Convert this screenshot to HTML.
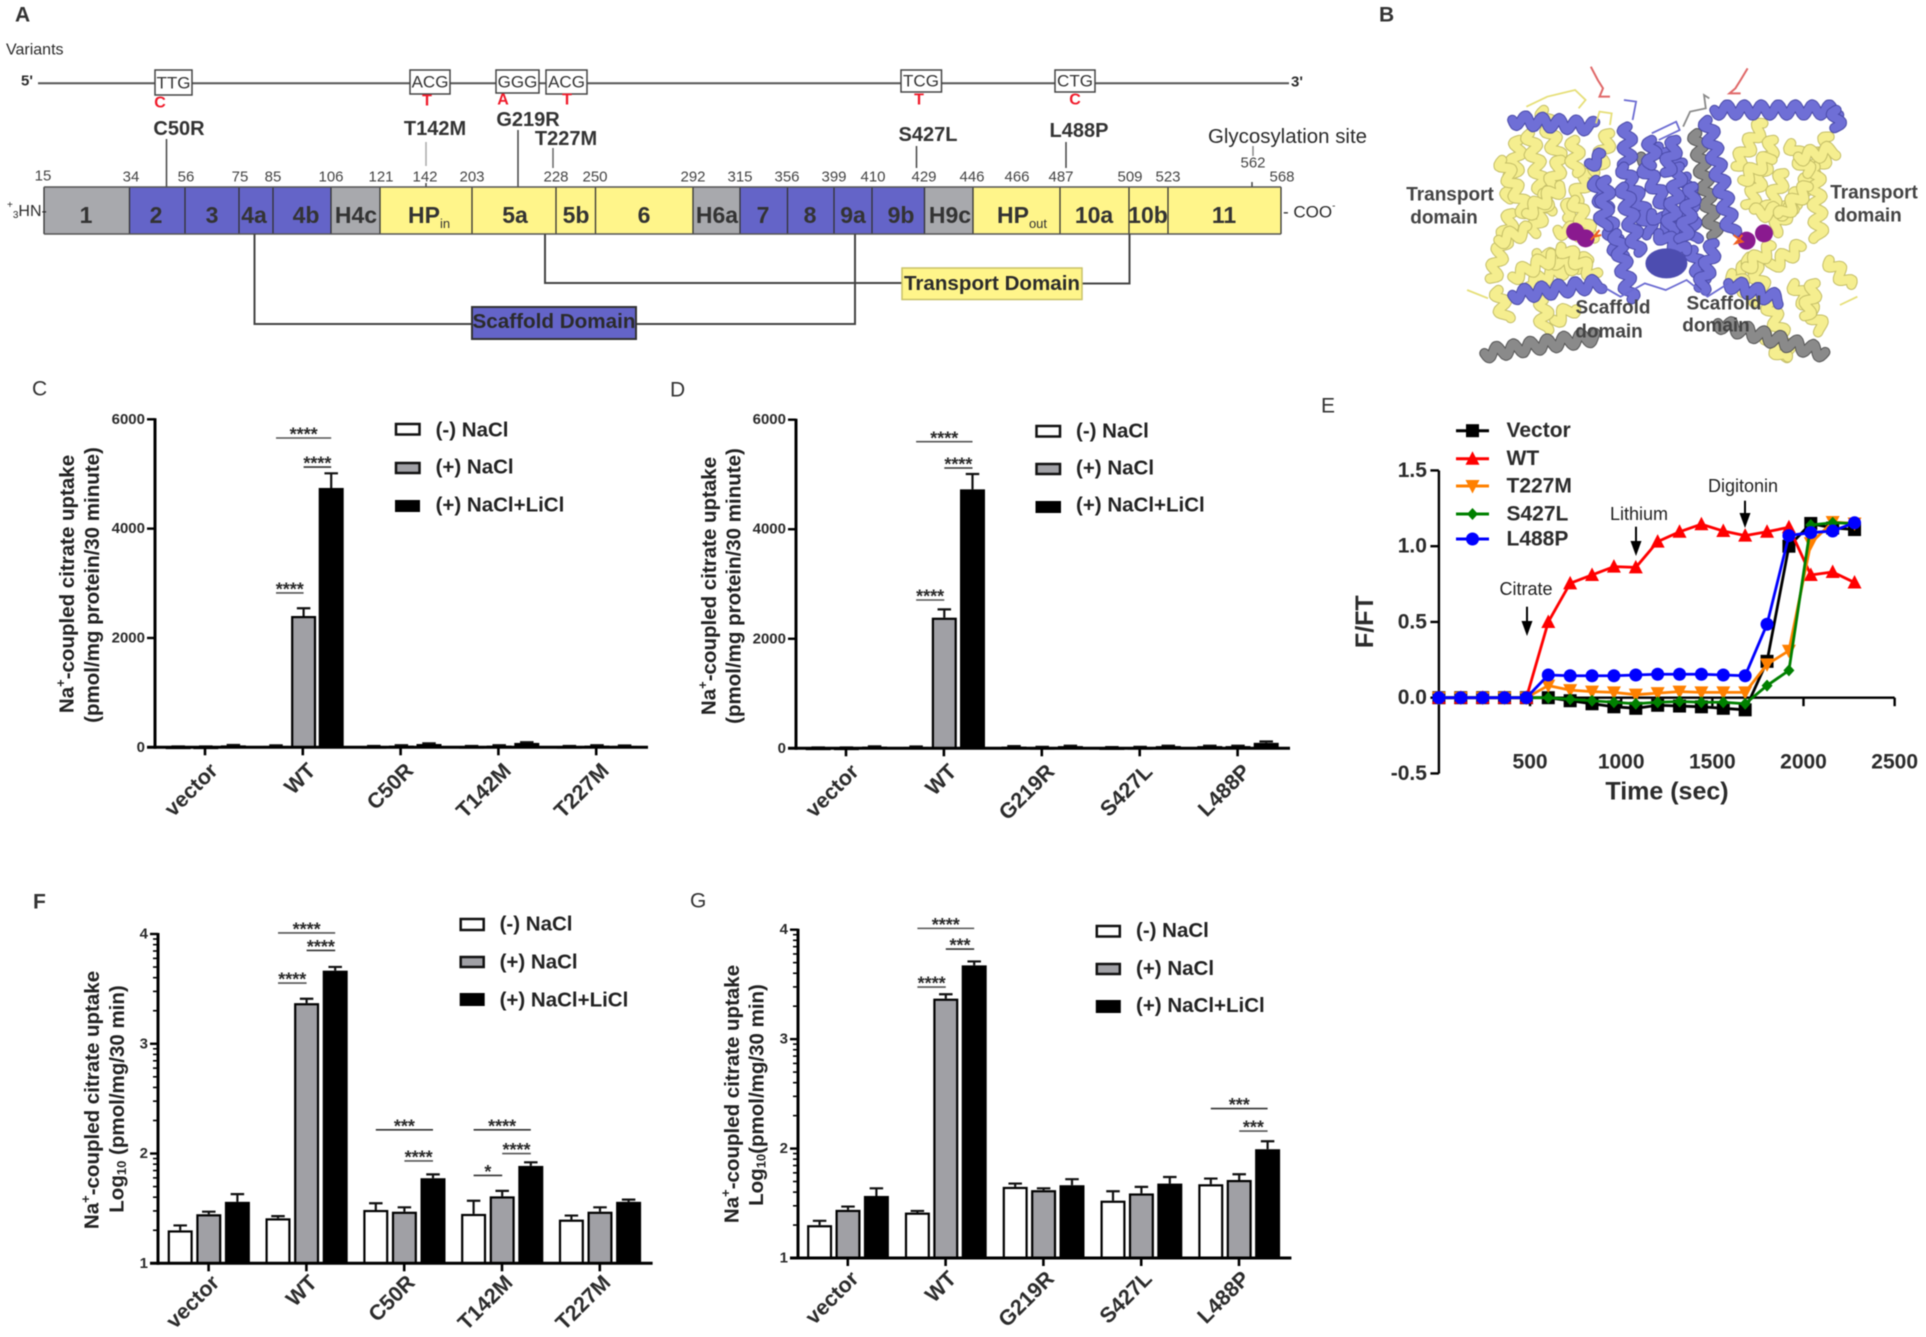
<!DOCTYPE html>
<html lang="en">
<head>
<meta charset="utf-8">
<title>Citrate transporter variants figure</title>
<style>
html,body{margin:0;padding:0;background:#fff;width:1926px;height:1337px;overflow:hidden}
svg{display:block;filter:blur(.45px)}
text{font-family:"Liberation Sans",sans-serif;dominant-baseline:central;fill:#2b2b2b}
.b{font-weight:700}
.seg{font-weight:700;font-size:23px;text-anchor:middle;fill:#333}
.num{font-size:15px;text-anchor:middle;fill:#444}
.mut{font-weight:700;font-size:20px;text-anchor:middle;fill:#333}
.red{font-weight:700;font-size:16px;text-anchor:middle;fill:#f01a2a}
.codon{font-size:17px;text-anchor:middle;fill:#333}
.ttl{font-weight:700;font-size:20.5px;text-anchor:middle;fill:#222}
.leg{font-weight:700;font-size:20.5px;fill:#222}
.letter{font-size:21px;fill:#333}
.dom{font-weight:700;font-size:19px;text-anchor:middle;fill:#444}
.ann{font-size:18px;text-anchor:middle;fill:#222}
.box{fill:#fff;stroke:#444;stroke-width:1.5}
.ln{stroke:#444;stroke-width:1.5;fill:none}
.conn{stroke:#444;stroke-width:2;fill:none}
</style>
</head>
<body>
<svg id="fig" xmlns="http://www.w3.org/2000/svg" width="1926" height="1337" viewBox="0 0 1926 1337">
<rect width="1926" height="1337" fill="#fff"/>

<!-- PANEL A -->
<g id="panel-a">
<text class="letter b" x="15" y="15">A</text>
<text x="6" y="50" font-size="16">Variants</text>
<text class="b" x="21" y="81" font-size="15">5'</text>
<line x1="38" y1="83.3" x2="1289" y2="83.3" stroke="#555" stroke-width="2"/>
<text class="b" x="1291" y="82" font-size="15">3'</text>

<rect class="box" x="155" y="70" width="37" height="25"/>
<text class="codon" x="173.500" y="83">TTG</text>
<rect class="box" x="410" y="70" width="40" height="24"/>
<text class="codon" x="430" y="82">ACG</text>
<rect class="box" x="496" y="70" width="43" height="23" stroke="#999"/>
<text class="codon" x="517.500" y="82">GGG</text>
<rect class="box" x="546" y="70" width="41" height="24"/>
<text class="codon" x="566.500" y="82">ACG</text>
<rect class="box" x="901" y="70" width="40.500" height="22"/>
<text class="codon" x="921" y="81">TCG</text>
<rect class="box" x="1055" y="70" width="40" height="22"/>
<text class="codon" x="1075" y="81">CTG</text>

<text class="red" x="160" y="103">C</text>
<text class="red" x="427" y="101">T</text>
<text class="red" x="503" y="100">A</text>
<text class="red" x="567" y="100">T</text>
<text class="red" x="919" y="100">T</text>
<text class="red" x="1075" y="100">C</text>

<text class="mut" x="179" y="129">C50R</text>
<text class="mut" x="435" y="129">T142M</text>
<text class="mut" x="528" y="120">G219R</text>
<text class="mut" x="566" y="139">T227M</text>
<text class="mut" x="928" y="135">S427L</text>
<text class="mut" x="1079" y="131">L488P</text>
<text x="1287.500" y="137" font-size="20" text-anchor="middle" textLength="159" lengthAdjust="spacingAndGlyphs" fill="#444">Glycosylation site</text>

<g>
<line class="ln" x1="166.500" y1="139" x2="166.500" y2="187"/>
<line x1="426" y1="142" x2="426" y2="166" stroke="#aaa" stroke-width="1.5"/>
<line class="ln" x1="426" y1="183" x2="426" y2="187"/>
<line class="ln" x1="518" y1="130" x2="518" y2="187"/>
<line x1="553" y1="148" x2="553" y2="168" stroke="#666" stroke-width="1.5"/>
<line class="ln" x1="916.500" y1="146" x2="916.500" y2="168"/>
<line class="ln" x1="1066" y1="142" x2="1066" y2="168"/>
<line x1="1253" y1="146" x2="1253" y2="156" stroke="#888" stroke-width="1.5"/>
<line class="ln" x1="1252" y1="182" x2="1252" y2="187"/>
</g>

<g>
<rect x="44" y="187" width="85.500" height="47" fill="#a8a9ad"/>
<rect x="129.500" y="187" width="55.500" height="47" fill="#6464c8"/>
<rect x="185" y="187" width="54" height="47" fill="#6464c8"/>
<rect x="239" y="187" width="34" height="47" fill="#6464c8"/>
<rect x="273" y="187" width="58" height="47" fill="#6464c8"/>
<rect x="331" y="187" width="49" height="47" fill="#a8a9ad"/>
<rect x="380" y="187" width="92" height="47" fill="#fff58a"/>
<rect x="472" y="187" width="84" height="47" fill="#fff58a"/>
<rect x="556" y="187" width="39.500" height="47" fill="#fff58a"/>
<rect x="595.500" y="187" width="97.500" height="47" fill="#fff58a"/>
<rect x="693" y="187" width="47" height="47" fill="#a8a9ad"/>
<rect x="740" y="187" width="47.500" height="47" fill="#6464c8"/>
<rect x="787.500" y="187" width="46.500" height="47" fill="#6464c8"/>
<rect x="834" y="187" width="38" height="47" fill="#6464c8"/>
<rect x="872" y="187" width="52.500" height="47" fill="#6464c8"/>
<rect x="924.500" y="187" width="48.500" height="47" fill="#a8a9ad"/>
<rect x="973" y="187" width="87" height="47" fill="#fff58a"/>
<rect x="1060" y="187" width="69" height="47" fill="#fff58a"/>
<rect x="1129" y="187" width="39" height="47" fill="#fff58a"/>
<rect x="1168" y="187" width="113" height="47" fill="#fff58a"/>
</g>
<path d="M129.500 187V234M185 187V234M239 187V234M273 187V234M331 187V234M380 187V234M472 187V234M556 187V234M595.500 187V234M693 187V234M740 187V234M787.500 187V234M834 187V234M872 187V234M924.500 187V234M973 187V234M1060 187V234M1129 187V234M1168 187V234M1281 187V234M44 187V234" stroke="#333" stroke-width="1.3" fill="none"/>
<path d="M44 187H1281M44 234H1281" stroke="#555" stroke-width="1.5" fill="none"/>

<text class="seg" x="86" y="215" font-size="27">1</text>
<text class="seg" x="156" y="215">2</text>
<text class="seg" x="212" y="215">3</text>
<text class="seg" x="254" y="215">4a</text>
<text class="seg" x="306" y="215">4b</text>
<text class="seg" x="356" y="215">H4c</text>
<text class="seg" x="408" y="215" style="text-anchor:start">HP<tspan font-size="13" dy="8" font-weight="400">in</tspan></text>
<text class="seg" x="515" y="215">5a</text>
<text class="seg" x="576" y="215">5b</text>
<text class="seg" x="644" y="215">6</text>
<text class="seg" x="717" y="215">H6a</text>
<text class="seg" x="763" y="215">7</text>
<text class="seg" x="810" y="215">8</text>
<text class="seg" x="853" y="215">9a</text>
<text class="seg" x="901" y="215">9b</text>
<text class="seg" x="950" y="215">H9c</text>
<text class="seg" x="997" y="215" style="text-anchor:start">HP<tspan font-size="13" dy="8" font-weight="400">out</tspan></text>
<text class="seg" x="1094" y="215">10a</text>
<text class="seg" x="1148" y="215">10b</text>
<text class="seg" x="1224" y="215">11</text>

<g>
<text class="num" x="43" y="176">15</text><text class="num" x="131" y="177">34</text><text class="num" x="186" y="177">56</text><text class="num" x="240" y="177">75</text><text class="num" x="273" y="177">85</text><text class="num" x="331" y="177">106</text><text class="num" x="381" y="177">121</text><text class="num" x="425" y="177">142</text><text class="num" x="472" y="177">203</text><text class="num" x="556" y="177">228</text><text class="num" x="595" y="177">250</text><text class="num" x="693" y="177">292</text><text class="num" x="740" y="177">315</text><text class="num" x="787" y="177">356</text><text class="num" x="834" y="177">399</text><text class="num" x="873" y="177">410</text><text class="num" x="924" y="177">429</text><text class="num" x="972" y="177">446</text><text class="num" x="1017" y="177">466</text><text class="num" x="1061" y="177">487</text><text class="num" x="1130" y="177">509</text><text class="num" x="1168" y="177">523</text><text class="num" x="1253" y="163">562</text><text class="num" x="1282" y="177">568</text>
</g>
<text x="7" y="211" font-size="16" fill="#333"><tspan font-size="10" dy="-6">+</tspan><tspan font-size="10" dy="10">3</tspan><tspan dy="-4">HN-</tspan></text>
<text x="1283" y="212" font-size="17" fill="#333">- COO<tspan font-size="10" dy="-6">-</tspan></text>

<polyline class="conn" points="254.500,234 254.500,324 855,324 855,234"/>
<rect x="472" y="307" width="164" height="32" fill="#6464c8" stroke="#333" stroke-width="2"/>
<text x="554" y="322" font-size="20" class="b" text-anchor="middle" textLength="163" lengthAdjust="spacingAndGlyphs" fill="#2a2a50">Scaffold Domain</text>
<polyline class="conn" points="545,234 545,283 902,283"/>
<polyline class="conn" points="1082,283.500 1129.500,283.500 1129.500,234"/>
<rect x="902" y="268" width="180" height="31.500" fill="#fff58a" stroke="#c9c268" stroke-width="1.5"/>
<text x="992" y="284" font-size="20" class="b" text-anchor="middle" textLength="176" lengthAdjust="spacingAndGlyphs">Transport Domain</text>
</g>

<!-- PANEL B -->
<text class="letter b" x="1379" y="15">B</text>
<g id="panel-b"></g>
<g>
<text class="dom" x="1450" y="195">Transport</text>
<text class="dom" x="1444" y="218">domain</text>
<text class="dom" x="1874" y="193">Transport</text>
<text class="dom" x="1868" y="216">domain</text>
<text class="dom" x="1613" y="308">Scaffold</text>
<text class="dom" x="1609" y="332">domain</text>
<text class="dom" x="1724" y="304">Scaffold</text>
<text class="dom" x="1716" y="326">domain</text>
</g>

<!-- PANEL C static -->
<text class="letter" x="32" y="389">C</text>
<text class="ttl" transform="translate(67,584) rotate(-90)">Na<tspan font-size="13" dy="-7">+</tspan><tspan dy="7">-coupled citrate uptake</tspan></text>
<text class="ttl" transform="translate(92.600,585) rotate(-90)">(pmol/mg protein/30 minute)</text>
<g>
<rect x="396" y="424" width="23.500" height="10.500" fill="#fff" stroke="#111" stroke-width="2.500"/>
<rect x="396" y="463" width="23.500" height="10" fill="#a0a0a5" stroke="#111" stroke-width="2.500"/>
<rect x="395" y="500" width="25" height="12" fill="#000"/>
<text class="leg" x="435.600" y="430">(-) NaCl</text>
<text class="leg" x="435.600" y="467">(+) NaCl</text>
<text class="leg" x="435.600" y="505">(+) NaCl+LiCl</text>
</g>

<!-- PANEL D static -->
<text class="letter" x="670" y="390">D</text>
<text class="ttl" transform="translate(709,586) rotate(-90)">Na<tspan font-size="13" dy="-7">+</tspan><tspan dy="7">-coupled citrate uptake</tspan></text>
<text class="ttl" transform="translate(734,586) rotate(-90)">(pmol/mg protein/30 minute)</text>
<g>
<rect x="1036.500" y="426" width="23.500" height="10.500" fill="#fff" stroke="#111" stroke-width="2.500"/>
<rect x="1036.500" y="464" width="23.500" height="10" fill="#a0a0a5" stroke="#111" stroke-width="2.500"/>
<rect x="1035.500" y="501" width="25.500" height="12" fill="#000"/>
<text class="leg" x="1076" y="431">(-) NaCl</text>
<text class="leg" x="1076" y="468">(+) NaCl</text>
<text class="leg" x="1076" y="505">(+) NaCl+LiCl</text>
</g>

<!-- PANEL E static -->
<text class="letter" x="1321" y="406">E</text>
<text class="b" font-size="25" text-anchor="middle" transform="translate(1365,621.700) rotate(-90)">F/FT</text>
<text class="b" font-size="25" x="1667" y="791.700" text-anchor="middle">Time (sec)</text>
<g>
<text class="ann" x="1526" y="589">Citrate</text>
<path d="M1527 606.700V626" stroke="#000" stroke-width="2"/>
<polygon points="1521.500,621 1532.500,621 1527,636" fill="#000"/>
<text class="ann" x="1639" y="514">Lithium</text>
<path d="M1636 526.700V546" stroke="#000" stroke-width="2"/>
<polygon points="1630.500,541 1641.500,541 1636,556" fill="#000"/>
<text class="ann" x="1743" y="486">Digitonin</text>
<path d="M1745 500.700V518" stroke="#000" stroke-width="2"/>
<polygon points="1739.500,513 1750.500,513 1745,528" fill="#000"/>
</g>

<!-- PANEL F static -->
<text class="letter b" x="33" y="902">F</text>
<text class="ttl" transform="translate(92,1100) rotate(-90)">Na<tspan font-size="13" dy="-7">+</tspan><tspan dy="7">-coupled citrate uptake</tspan></text>
<text class="ttl" transform="translate(117,1099) rotate(-90)">Log<tspan font-size="13" dy="4">10</tspan><tspan dy="-4"> (pmol/mg/30 min)</tspan></text>
<g>
<rect x="460.700" y="919" width="23" height="11" fill="#fff" stroke="#111" stroke-width="2.500"/>
<rect x="460.700" y="957" width="23" height="10" fill="#a0a0a5" stroke="#111" stroke-width="2.500"/>
<rect x="459.700" y="993" width="25" height="13" fill="#000"/>
<text class="leg" x="499.600" y="924">(-) NaCl</text>
<text class="leg" x="499.600" y="962">(+) NaCl</text>
<text class="leg" x="499.600" y="1000">(+) NaCl+LiCl</text>
</g>

<!-- PANEL G static -->
<text class="letter" x="690" y="901">G</text>
<text class="ttl" transform="translate(732,1094) rotate(-90)">Na<tspan font-size="13" dy="-7">+</tspan><tspan dy="7">-coupled citrate uptake</tspan></text>
<text class="ttl" transform="translate(756.700,1095) rotate(-90)">Log<tspan font-size="13" dy="4">10</tspan><tspan dy="-4">(pmol/mg/30 min)</tspan></text>
<g>
<rect x="1096.800" y="926" width="23" height="10.500" fill="#fff" stroke="#111" stroke-width="2.500"/>
<rect x="1096.800" y="964" width="23" height="10" fill="#a0a0a5" stroke="#111" stroke-width="2.500"/>
<rect x="1095.800" y="1000" width="25" height="13" fill="#000"/>
<text class="leg" x="1136" y="930.700">(-) NaCl</text>
<text class="leg" x="1136" y="968.300">(+) NaCl</text>
<text class="leg" x="1136" y="1005.700">(+) NaCl+LiCl</text>
</g>

<g id="chart-c"></g>
<g id="chart-d"></g>
<g id="chart-e"></g>
<g id="chart-f"></g>
<g id="chart-g"></g>
</svg>

<script>
/* ---------- Panel C data ---------- */
const cCategories = ['vector','WT','C50R','T142M','T227M'];
const cMinusNaCl = [10,25,20,20,20];
const cPlusNaCl = [10,2402,30,30,30];
const cPlusLiCl = [35,4744,60,80,25];
const cMinusErr = [5,10,5,5,5];
const cPlusErr = [5,141,8,8,8];
const cLiErr = [8,268,12,12,8];
const cTickLabels = [0,2000,4000,6000];
const cSigGroups = [1,1,1];
const cSigFrom = [0,1,0];
const cSigTo = [2,2,1];
const cSigLevels = [5658,5127,2823];
const cSigLabels = ['****','****','****'];

/* ---------- Panel D data ---------- */
const dCategories = ['vector','WT','G219R','S427L','L488P'];
const dMinusNaCl = [10,25,30,15,40];
const dPlusNaCl = [10,2385,20,20,40];
const dPlusLiCl = [30,4728,40,40,100];
const dMinusErr = [5,8,10,6,8];
const dPlusErr = [5,152,6,6,8];
const dLiErr = [6,280,8,8,25];
const dTickLabels = [0,2000,4000,6000];
const dSigGroups = [1,1,1];
const dSigFrom = [0,1,0];
const dSigTo = [2,2,1];
const dSigLevels = [5598,5118,2708];
const dSigLabels = ['****','****','****'];

/* ---------- Panel F data ---------- */
const fCategories = ['vector','WT','C50R','T142M','T227M'];
const fMinusNaCl = [1.30,1.41,1.486,1.45,1.398];
const fPlusNaCl = [1.447,3.37,1.47,1.61,1.47];
const fPlusLiCl = [1.56,3.666,1.775,1.887,1.56];
const fMinusErr = [0.045,0.02,0.061,0.12,0.037];
const fPlusErr = [0.023,0.04,0.04,0.05,0.04];
const fLiErr = [0.07,0.034,0.035,0.033,0.02];
const fTickLabels = [1,2,3,4];
const fSigGroups = [1,1,1,2,2,3,3,3];
const fSigFrom = [0,1,0,0,1,0,1,0];
const fSigTo = [2,2,1,2,2,2,2,1];
const fSigLevels = [4.01,3.85,3.553,2.216,1.933,2.216,2.0,1.8];
const fSigLabels = ['****','****','****','***','****','****','****','*'];

/* ---------- Panel G data ---------- */
const gCategories = ['vector','WT','G219R','S427L','L488P'];
const gMinusNaCl = [1.30,1.415,1.65,1.524,1.674];
const gPlusNaCl = [1.44,3.37,1.62,1.59,1.713];
const gPlusLiCl = [1.567,3.674,1.665,1.68,1.994];
const gMinusErr = [0.04,0.015,0.03,0.086,0.052];
const gPlusErr = [0.03,0.04,0.017,0.06,0.052];
const gLiErr = [0.07,0.036,0.055,0.06,0.073];
const gTickLabels = [1,2,3,4];
const gSigGroups = [1,1,1,4,4];
const gSigFrom = [0,1,0,0,1];
const gSigTo = [2,2,1,2,2];
const gSigLevels = [4.012,3.823,3.476,2.366,2.16];
const gSigLabels = ['****','***','****','***','***'];

/* ---------- Panel E data ---------- */
const eTimes = [0,120,240,360,480,600,720,840,960,1080,1200,1320,1440,1560,1680,1800,1920,2040,2160,2280];
const eVector = [0,0,0,0,0,0,-0.02,-0.04,-0.06,-0.07,-0.05,-0.055,-0.06,-0.07,-0.08,0.24,1.0,1.15,1.12,1.11];
const eWT = [0,0,0,0,0,0.5,0.755,0.81,0.865,0.86,1.03,1.095,1.145,1.10,1.07,1.095,1.125,0.81,0.83,0.76];
const eT227M = [0,0,0,0,0,0.08,0.05,0.04,0.035,0.02,0.03,0.04,0.035,0.035,0.035,0.22,0.31,1.02,1.16,1.15];
const eS427L = [0,0,0,0,0,0,-0.01,-0.02,-0.03,-0.04,-0.03,-0.025,-0.03,-0.03,-0.04,0.08,0.18,1.14,1.155,1.15];
const eL488P = [0,0,0,0,0,0.15,0.145,0.145,0.145,0.15,0.155,0.155,0.155,0.15,0.145,0.485,1.07,1.09,1.10,1.155];
const eSeriesNames = ['Vector','WT','T227M','S427L','L488P'];
const eXTicks = [500,1000,1500,2000,2500];
const eYTicks = [-0.5,0,0.5,1,1.5];

const NS = 'http://www.w3.org/2000/svg';
function mk(tag, attrs, parent, txt) {
  const el = document.createElementNS(NS, tag);
  for (const k in attrs) el.setAttribute(k, attrs[k]);
  if (txt !== undefined) el.textContent = txt;
  parent.appendChild(el);
  return el;
}

/* ---------- Bar chart ---------- */
function drawBarChart(id, o) {
  const root = document.getElementById(id);
  const yS = v => o.yBottom - (v - o.vMin) / (o.vMax - o.vMin) * (o.yBottom - o.yTop);
  const xS = i => o.firstTick + i * o.tickStep;
  const barX = (g, b) => xS(g) + o.barOffset + (b - 1) * o.barPitch;
  const fills = ['#ffffff', '#a0a0a5', '#000000'];
  const seriesNames = ['minus-nacl', 'plus-nacl', 'plus-licl'];
  o.categories.forEach((cat, g) => {
    o.series.forEach((vals, b) => {
      const cx = barX(g, b);
      const top = yS(vals[g]);
      const eTop = yS(vals[g] + o.errors[b][g]);
      const stem = mk('path', {d: 'M' + cx + ' ' + top + 'V' + eTop + 'M' + (cx - 6.75) + ' ' + eTop + 'H' + (cx + 6.75), stroke: '#111', 'stroke-width': 2.2, fill: 'none'}, root);
      
      
      const h = Math.max(0.5, o.yBottom - top);
      const bar = mk('rect', {x: cx - o.barWidth / 2 + 1.1, y: top + 1.1, width: o.barWidth - 2.2, height: Math.max(0.2, h - 1.1), fill: fills[b], stroke: '#000', 'stroke-width': 2.2}, root);
      
      
    });
    const tick = mk('line', {x1: xS(g), x2: xS(g), y1: o.yBottom, y2: o.yBottom + 8, stroke: '#000', 'stroke-width': 2.6}, root);
    
    
    const lx = xS(g) + o.labelDx, ly = o.labelY;
    const lab = mk('text', {transform: 'translate(' + lx + ',' + ly + ') rotate(-45)', 'text-anchor': 'end', 'font-size': 21.5, 'font-weight': 700, fill: '#222'}, root, cat);
    
    
  });
  const yAxis = mk('line', {x1: o.axisX, x2: o.axisX, y1: o.yTop - 1, y2: o.yBottom + 1.5, stroke: '#000', 'stroke-width': 3}, root);
  
  
  const xAxis = mk('line', {x1: o.axisX - 8, x2: o.axisEnd, y1: o.yBottom, y2: o.yBottom, stroke: '#000', 'stroke-width': 3}, root);
  
  
  o.ticks.forEach((t, idx) => {
    const y = yS(t);
    const tk = mk('line', {x1: o.axisX - 8, x2: o.axisX, y1: y, y2: y, stroke: '#000', 'stroke-width': 2.4}, root);
    
    
    const tl = mk('text', {x: o.axisX - 10, y: y, 'text-anchor': 'end', 'font-size': 15, 'font-weight': 700, fill: '#222'}, root, String(t));
    
    
    if (o.logMinor && idx < o.ticks.length - 1) {
      [2,3,4,5,6,7,8,9].forEach(k => {
        const my = yS(t + Math.log10(k));
        const mt = mk('line', {x1: o.axisX - 5, x2: o.axisX, y1: my, y2: my, stroke: '#000', 'stroke-width': 1.6}, root);
        
        
      });
    }
  });
  o.sigGroups.forEach((g, i) => {
    const x1 = barX(g, o.sigFrom[i]), x2 = barX(g, o.sigTo[i]);
    const y = yS(o.sigLevels[i]);
    const ln = mk('line', {x1: x1, x2: x2, y1: y, y2: y, stroke: i % 2 ? '#333' : '#555', 'stroke-width': 1.6}, root);
    
    
    const st = mk('text', {x: (x1 + x2) / 2, y: y + 2.6, 'text-anchor': 'middle', 'font-size': 18, 'font-weight': 700, style: 'dominant-baseline:alphabetic', fill: '#222'}, root, o.sigLabels[i]);
    
    
  });
}

drawBarChart('chart-c', {categories: cCategories, series: [cMinusNaCl, cPlusNaCl, cPlusLiCl], errors: [cMinusErr, cPlusErr, cLiErr], ticks: cTickLabels,
  vMin: 0, vMax: 6000, yTop: 419.3, yBottom: 747.3, axisX: 155, axisEnd: 648, firstTick: 205, tickStep: 97.8, barWidth: 25, barPitch: 27.6, barOffset: 0.8, labelDx: 9, labelY: 767,
  sigGroups: cSigGroups, sigFrom: cSigFrom, sigTo: cSigTo, sigLevels: cSigLevels, sigLabels: cSigLabels, logMinor: false});
drawBarChart('chart-d', {categories: dCategories, series: [dMinusNaCl, dPlusNaCl, dPlusLiCl], errors: [dMinusErr, dPlusErr, dLiErr], ticks: dTickLabels,
  vMin: 0, vMax: 6000, yTop: 419.7, yBottom: 748.3, axisX: 796, axisEnd: 1290, firstTick: 846, tickStep: 97.9, barWidth: 25, barPitch: 28.2, barOffset: 0.4, labelDx: 9, labelY: 768,
  sigGroups: dSigGroups, sigFrom: dSigFrom, sigTo: dSigTo, sigLevels: dSigLevels, sigLabels: dSigLabels, logMinor: false});
drawBarChart('chart-f', {categories: fCategories, series: [fMinusNaCl, fPlusNaCl, fPlusLiCl], errors: [fMinusErr, fPlusErr, fLiErr], ticks: fTickLabels,
  vMin: 1, vMax: 4, yTop: 934, yBottom: 1263.3, axisX: 158, axisEnd: 652.6, firstTick: 208.6, tickStep: 97.8, barWidth: 25, barPitch: 28.6, barOffset: 0.2, labelDx: 7, labelY: 1279,
  sigGroups: fSigGroups, sigFrom: fSigFrom, sigTo: fSigTo, sigLevels: fSigLevels, sigLabels: fSigLabels, logMinor: true});
drawBarChart('chart-g', {categories: gCategories, series: [gMinusNaCl, gPlusNaCl, gPlusLiCl], errors: [gMinusErr, gPlusErr, gLiErr], ticks: gTickLabels,
  vMin: 1, vMax: 4, yTop: 929.7, yBottom: 1258, axisX: 798, axisEnd: 1291.4, firstTick: 847.8, tickStep: 97.8, barWidth: 25, barPitch: 28.4, barOffset: 0.2, labelDx: 7, labelY: 1275,
  sigGroups: gSigGroups, sigFrom: gSigFrom, sigTo: gSigTo, sigLevels: gSigLevels, sigLabels: gSigLabels, logMinor: true});

/* ---------- Line chart E ---------- */
(function () {
  const root = document.getElementById('chart-e');
  const xE = t => 1438.9 + t * 0.1823;
  const yE = v => 697.7 - v * 151.5;
  const colors = ['#000000', '#ff0000', '#ff8000', '#008000', '#0000ff'];
  const all = [eVector, eWT, eT227M, eS427L, eL488P];
  function marker(kind, x, y, color, parent) {
    if (kind === 0) return mk('rect', {x: x - 6.5, y: y - 6.5, width: 13, height: 13, fill: color}, parent);
    if (kind === 1) return mk('polygon', {points: (x) + ',' + (y - 7.5) + ' ' + (x + 7) + ',' + (y + 6) + ' ' + (x - 7) + ',' + (y + 6), fill: color}, parent);
    if (kind === 2) return mk('polygon', {points: (x) + ',' + (y + 7.5) + ' ' + (x + 7) + ',' + (y - 6) + ' ' + (x - 7) + ',' + (y - 6), fill: color}, parent);
    if (kind === 3) return mk('polygon', {points: (x) + ',' + (y - 6) + ' ' + (x + 5.5) + ',' + y + ' ' + (x) + ',' + (y + 6) + ' ' + (x - 5.5) + ',' + y, fill: color}, parent);
    return mk('circle', {cx: x, cy: y, r: 6.5, fill: color}, parent);
  }
  const yAxis = mk('line', {x1: xE(0), x2: xE(0), y1: yE(1.5), y2: yE(-0.5), stroke: '#000', 'stroke-width': 2.4}, root);
  
  
  const xAxis = mk('line', {x1: xE(0), x2: xE(2500), y1: yE(0), y2: yE(0), stroke: '#000', 'stroke-width': 2.4}, root);
  
  
  eYTicks.forEach(t => {
    const tk = mk('line', {x1: xE(0) - 8.5, x2: xE(0), y1: yE(t), y2: yE(t), stroke: '#000', 'stroke-width': 2.4}, root);
    
    
    const tl = mk('text', {x: xE(0) - 12, y: yE(t), 'text-anchor': 'end', 'font-size': 21, 'font-weight': 700, fill: '#222'}, root, t.toFixed(1));
    
    
  });
  eXTicks.forEach(t => {
    const tk = mk('line', {x1: xE(t), x2: xE(t), y1: yE(0), y2: yE(0) + 8.5, stroke: '#000', 'stroke-width': 2.4}, root);
    
    
    const tl = mk('text', {x: xE(t), y: 762, 'text-anchor': 'middle', 'font-size': 21, 'font-weight': 700, fill: '#222'}, root, String(t));
    
    
  });
  all.forEach((vals, s) => {
    const g = mk('g', {}, root);
    
    
    const line = mk('polyline', {points: vals.map((v, i) => xE(eTimes[i]) + ',' + yE(v)).join(' '), fill: 'none', stroke: colors[s], 'stroke-width': 2.8, 'stroke-linejoin': 'round'}, g);
    
    
    vals.forEach((v, i) => {
      const m = marker(s, xE(eTimes[i]), yE(v), colors[s], g);
      
      
    });
  });
  const legendRows = [430.7, 458.7, 486, 514, 539];
  eSeriesNames.forEach((name, s) => {
    const ly = legendRows[s];
    const ll = mk('line', {x1: 1456, x2: 1489, y1: ly, y2: ly, stroke: colors[s], 'stroke-width': 3}, root);
    
    
    const lm = marker(s, 1472.5, ly, colors[s], root);
    
    
    const lt = mk('text', {x: 1506.5, y: ly, 'font-size': 21, 'font-weight': 700, fill: '#222'}, root, name);
    
    
  });
})();

/* ---------- Panel B ribbon illustration ---------- */
(function () {
  const root = document.getElementById('panel-b');
  const bx = z => 1380 + z / 2.87;
  const by = z => z / 3;
  const palette = {
    y: ['#c4be66', '#f5ee8f'],
    b: ['#4a4aa8', '#6f6fd6'],
    g: ['#555555', '#8a8a8a']
  };
  const helicesYellow = [
    [400,420,370,600],[380,640,320,840],[470,330,510,470],[430,400,480,640],[520,480,440,700],
    [600,520,530,650],[660,400,620,520],[510,690,620,700],[600,780,420,850],[340,870,360,960],
    [500,960,560,920],[560,600,600,700],[450,760,560,800],[350,480,420,640],[420,640,520,560],
    [560,420,560,520],[340,720,430,690],[380,830,500,770],[520,740,620,830],[470,900,470,990],
    [1290,410,1260,470],[1100,370,1020,500],[1130,420,1060,620],[1290,450,1130,690],[1250,500,1260,720],
    [1160,520,1110,640],[1190,630,1070,640],[1100,780,1010,830],[1290,780,1350,860],[1190,850,1270,990],
    [1060,770,1180,1070],[1110,1000,1160,1080],[1210,740,1120,800],[1040,540,1120,470],[1180,430,1230,520],
    [1050,800,1130,740],[1230,560,1150,650],[1250,850,1220,950],[1010,820,1080,900],[1200,470,1310,450]
  ];
  const helicesBlue = [
    [380,360,620,380],[600,490,640,470],[620,540,690,780],[710,380,710,500],[700,500,780,700],
    [680,700,720,900],[380,885,640,850],[800,440,860,500],[780,640,860,700],
    [880,530,900,720],[900,750,930,860],[960,330,1320,330],[1310,330,1310,385],[1000,850,1150,900],[940,360,1010,700],
    [760,500,830,640],[700,560,740,760],[860,500,830,700],[800,700,880,760],[900,560,870,720],
    [780,420,780,500],[850,420,820,520],[960,730,920,870],[650,540,640,680]
  ];
  const helicesGray = [[910,400,960,710],[300,1060,620,1010],[970,970,1280,1060],[750,470,780,480]];
  function helix(h, key) {
    const [zx1, zy1, zx2, zy2] = h;
    const x1 = bx(zx1), y1 = by(zy1), x2 = bx(zx2), y2 = by(zy2);
    const len = Math.hypot(x2 - x1, y2 - y1);
    const ux = (x2 - x1) / len, uy = (y2 - y1) / len;
    const pts = [];
    for (let s = 0; s <= len; s += 1.5) {
      const a = 5.5 * Math.sin(s / 17 * 2 * Math.PI);
      pts.push((x1 + ux * s - uy * a).toFixed(1) + ',' + (y1 + uy * s + ux * a).toFixed(1));
    }
    const under = mk('polyline', {points: pts.join(' '), fill: 'none', stroke: palette[key][0], 'stroke-width': 10.5, 'stroke-linecap': 'round', 'stroke-linejoin': 'round'}, root);
    
    
    const over = mk('polyline', {points: pts.join(' '), fill: 'none', stroke: palette[key][1], 'stroke-width': 8.5, 'stroke-linecap': 'round', 'stroke-linejoin': 'round'}, root);
    
    
  }
  helicesYellow.forEach(h => helix(h, 'y'));
  helicesGray.forEach(h => helix(h, 'g'));
  helicesBlue.forEach(h => helix(h, 'b'));
  const loops = [
    ['#e6df78', [[420,320],[480,290],[560,270],[590,300],[570,325]]],
    ['#e6df78', [[620,370],[630,335],[665,340],[660,375]]],
    ['#e6df78', [[250,870],[310,895]]],
    ['#e6df78', [[1370,890],[1320,915]]],
    ['#6b6bd2', [[700,300],[735,305],[725,360]]],
    ['#6b6bd2', [[780,400],[850,365],[860,390],[800,420]]],
    ['#6b6bd2', [[640,860],[690,890],[760,850],[820,870],[880,840],[940,890],[1000,850]]],
    ['#8a8a8a', [[870,380],[890,335],[935,325],[930,285],[945,295]]]
  ];
  loops.forEach(l => {
    const lp = mk('polyline', {points: l[1].map(p => bx(p[0]) + ',' + by(p[1])).join(' '), fill: 'none', stroke: l[0], 'stroke-width': 1.8}, root);
    
    
  });
  const hub = mk('ellipse', {cx: bx(822), cy: by(790), rx: 21, ry: 15, fill: '#4d4db0'}, root);
  
  
  const ions = [[560,695],[590,715],[1052,722],[1102,700]];
  ions.forEach(p => {
    const c = mk('circle', {cx: bx(p[0]), cy: by(p[1]), r: 9, fill: '#8a1a8f'}, root);
    
    
  });
  const ligands = [
    ['#f06020', [[605,720],[630,690],[615,710],[635,705]]],
    ['#f06020', [[1015,705],[1040,725],[1020,730],[1040,705]]],
    ['#e06868', [[605,200],[625,240],[640,265],[630,290],[660,290]]],
    ['#e06868', [[1055,205],[1035,240],[1020,265],[1003,280],[1035,280]]]
  ];
  ligands.forEach(l => {
    const lg = mk('polyline', {points: l[1].map(p => bx(p[0]) + ',' + by(p[1])).join(' '), fill: 'none', stroke: l[0], 'stroke-width': 2}, root);
    
    
  });
})();
</script>
</body>
</html>
